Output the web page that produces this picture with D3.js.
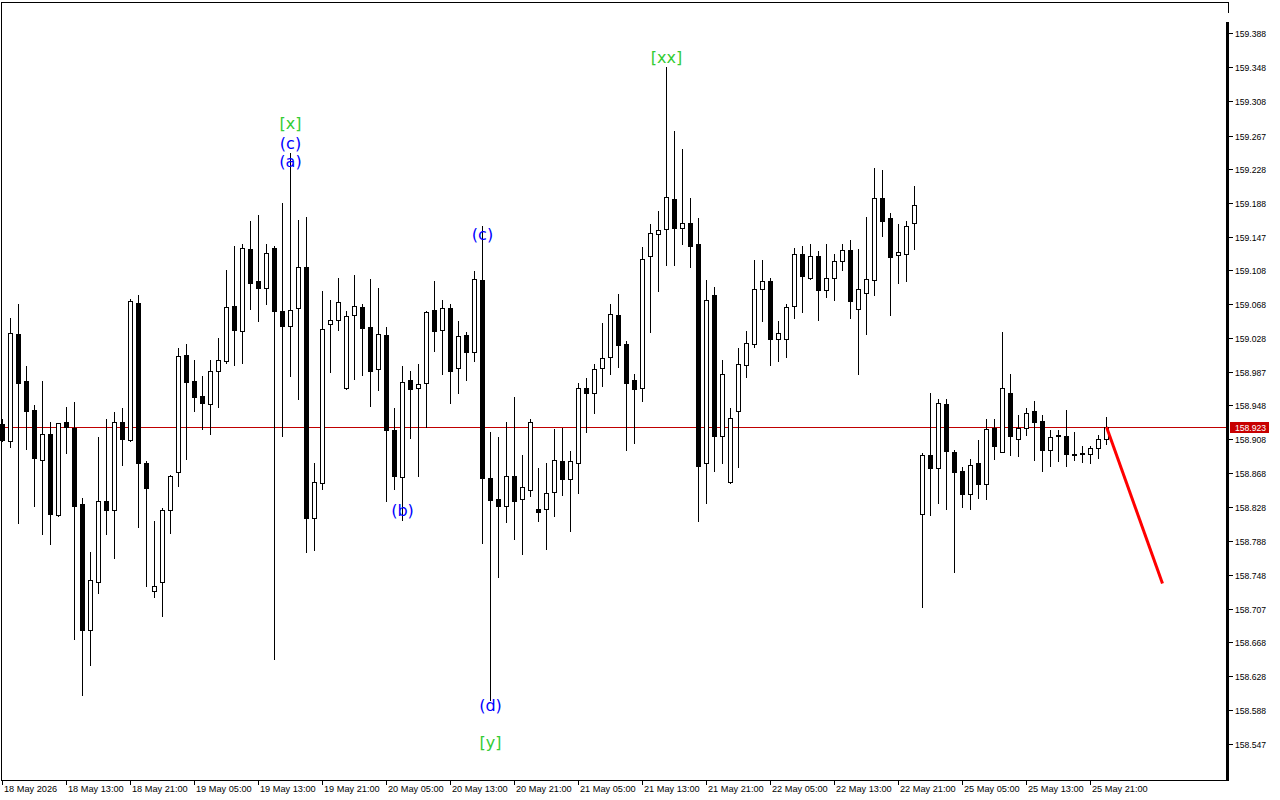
<!DOCTYPE html>
<html>
<head>
<meta charset="utf-8">
<script src="https://cdn.jsdelivr.net/npm/d3@7"></script>
<style>
  html, body { margin: 0; padding: 0; background: #fff; }
  svg { display: block; }
</style>
</head>
<body>
<svg id="chart" width="1280" height="800"></svg>
<script>
// ---- data (H1 bars, 18 May 05:00 .. 25 May 23:00) ----
const open = [158.927,158.907,159.033,158.978,158.943,158.884,158.915,158.819,158.929,158.922,158.832,158.683,158.740,158.835,158.825,158.929,158.908,159.070,158.881,158.729,158.740,158.825,158.870,159.008,158.978,158.960,158.950,158.989,159.001,159.066,159.037,159.134,159.096,159.088,159.135,159.060,159.043,159.064,159.112,158.816,158.857,159.045,159.050,158.969,159.056,159.065,159.041,158.992,159.032,158.920,158.864,158.979,158.969,158.975,159.062,159.038,159.064,158.993,159.032,159.012,159.097,158.863,158.838,158.830,158.865,158.838,158.849,158.826,158.826,158.846,158.883,158.861,158.880,158.969,158.963,158.993,159.006,159.056,159.021,158.979,158.969,159.125,159.151,159.157,159.193,159.159,159.164,159.139,158.881,159.079,158.913,158.858,158.942,158.997,159.021,159.086,159.096,159.027,159.027,159.066,159.128,159.099,159.125,159.085,159.099,159.120,159.133,159.063,159.082,159.097,159.194,159.170,159.127,159.128,159.164,158.820,158.890,158.874,158.950,158.894,158.871,158.844,158.880,158.856,158.922,158.894,158.963,158.909,158.922,158.942,158.930,158.896,158.913,158.913,158.891,158.892,158.891,158.898,158.909];
const high = [158.932,159.052,159.068,158.995,158.949,158.978,158.929,158.928,158.947,158.953,158.839,158.775,158.911,158.933,158.941,158.946,159.075,159.079,158.883,158.812,158.827,158.866,159.016,159.021,159.002,158.984,159.002,159.028,159.109,159.137,159.140,159.167,159.174,159.139,159.137,159.188,159.247,159.168,159.172,158.880,159.084,159.073,159.099,159.060,159.103,159.068,159.098,159.088,159.041,158.945,158.995,158.989,158.998,159.060,159.096,159.073,159.068,159.049,159.036,159.108,159.161,158.917,158.911,158.929,158.958,158.890,158.932,158.875,158.880,158.921,158.922,158.895,158.975,158.981,158.998,159.046,159.068,159.081,159.025,158.986,159.136,159.163,159.179,159.349,159.273,159.252,159.194,159.170,159.097,159.089,159.002,158.945,159.017,159.037,159.121,159.121,159.099,159.049,159.068,159.135,159.137,159.140,159.131,159.140,159.128,159.140,159.144,159.134,159.172,159.230,159.227,159.176,159.163,159.167,159.208,158.892,158.963,158.956,158.956,158.896,158.876,158.885,158.908,158.933,158.933,159.036,158.986,158.937,158.946,158.954,158.937,158.919,158.919,158.943,158.917,158.901,158.901,158.914,158.935];
const low = [158.906,158.900,158.809,158.897,158.830,158.797,158.785,158.818,158.892,158.672,158.606,158.641,158.727,158.796,158.768,158.878,158.907,158.805,158.735,158.722,158.700,158.798,158.853,158.885,158.942,158.921,158.915,158.947,158.999,158.997,158.999,159.063,159.049,159.069,158.649,158.913,158.984,158.956,158.775,158.777,158.850,158.988,159.038,158.968,158.980,158.985,158.948,158.967,158.836,158.850,158.813,158.910,158.865,158.923,159.013,158.986,158.952,158.963,158.979,159.001,158.786,158.600,158.746,158.811,158.790,158.773,158.842,158.812,158.779,158.818,158.843,158.800,158.845,158.917,158.940,158.972,158.986,158.994,158.896,158.904,158.954,159.036,159.084,159.115,159.115,159.139,159.112,158.812,158.833,158.871,158.881,158.857,158.876,158.982,159.018,159.049,158.997,159.001,159.006,159.052,159.059,159.098,159.050,159.077,159.073,159.109,159.052,158.986,159.033,159.079,159.149,159.056,159.094,159.096,159.134,158.710,158.819,158.833,158.826,158.752,158.829,158.826,158.839,158.838,158.885,158.893,158.890,158.889,158.914,158.884,158.871,158.877,158.883,158.877,158.884,158.882,158.880,158.887,158.903];
const close = [158.908,159.034,158.975,158.942,158.887,158.915,158.820,158.928,158.923,158.830,158.683,158.742,158.835,158.825,158.929,158.909,159.072,158.881,158.851,158.735,158.825,158.865,159.007,158.976,158.959,158.952,158.989,159.002,159.065,159.038,159.135,159.094,159.088,159.129,159.060,159.043,159.062,159.112,158.816,158.858,159.039,159.050,159.071,159.054,159.066,159.040,158.989,159.033,158.919,158.865,158.976,158.968,158.974,159.059,159.037,159.064,158.989,159.031,159.012,159.098,158.863,158.837,158.830,158.865,158.836,158.852,158.929,158.822,158.845,158.884,158.861,158.883,158.969,158.963,158.992,159.005,159.057,159.020,158.975,158.968,159.122,159.153,159.156,159.195,159.159,159.164,159.137,158.877,159.073,158.913,158.986,158.934,158.998,159.023,159.086,159.096,159.027,159.034,159.065,159.128,159.102,159.125,159.085,159.099,159.120,159.133,159.072,159.086,159.098,159.194,159.167,159.124,159.130,159.161,159.186,158.890,158.875,158.952,158.895,158.870,158.844,158.878,158.856,158.921,158.901,158.969,158.913,158.922,158.940,158.929,158.896,158.911,158.914,158.891,158.890,158.891,158.898,158.909,158.923];

const timeLabels = ["18 May 2026","18 May 13:00","18 May 21:00","19 May 05:00","19 May 13:00","19 May 21:00","20 May 05:00","20 May 13:00","20 May 21:00","21 May 05:00","21 May 13:00","21 May 21:00","22 May 05:00","22 May 13:00","22 May 21:00","25 May 05:00","25 May 13:00","25 May 21:00"];
const timeLabelBars = [0,8,16,24,32,40,48,56,64,72,80,88,96,104,112,120,128,136];

const priceTicks = ["159.388","159.348","159.308","159.267","159.228","159.188","159.147","159.108","159.068","159.028","158.987","158.948","158.908","158.868","158.828","158.788","158.748","158.707","158.668","158.628","158.588","158.547"];

const currentPrice = 158.923;
const forecastBars = [138, 145];
const forecastPrices = [158.923, 158.738];

const waveText  = ["[x]","(c)","(a)","(b)","(c)","(d)","[y]","[xx]"];
const waveBar   = [36, 36, 36, 50, 60, 61, 61, 83];
const wavePrice = [159.282, 159.259, 159.237, 158.824, 159.151, 158.594, 158.550, 159.360];
const waveColor = ["#33cc33","#0000ff","#0000ff","#0000ff","#0000ff","#0000ff","#33cc33","#33cc33"];

// ---- layout ----
const plotRight = 1228, plotBottom = 780, plotTop = 2, plotLeft = 1;
const svg = d3.select("#chart");

const y = d3.scaleLinear().domain([158.5055, 159.4282]).range([780, 0]);
const x = d3.scaleLinear().domain([0, 1]).range([2.5, 10.5]);
const crisp = v => Math.round(v - 0.5) + 0.5;

const bars = open.map((o, i) => ({i, o, h: high[i], l: low[i], c: close[i]}));

// clip for plot
svg.append("defs").append("clipPath").attr("id", "plotclip")
  .append("rect").attr("x", 0).attr("y", plotTop).attr("width", plotRight).attr("height", plotBottom - plotTop);

const plot = svg.append("g").attr("clip-path", "url(#plotclip)");

// current price line
plot.append("line")
  .attr("x1", 0).attr("x2", plotRight)
  .attr("y1", crisp(y(currentPrice))).attr("y2", crisp(y(currentPrice)))
  .attr("stroke", "#c00000").attr("stroke-width", 1);

// wicks
plot.append("g").selectAll("line").data(bars).join("line")
  .attr("x1", d => x(d.i)).attr("x2", d => x(d.i))
  .attr("y1", d => Math.round(y(d.h))).attr("y2", d => Math.round(y(d.l)) + 1)
  .attr("stroke", "#000").attr("stroke-width", 1)
  .attr("shape-rendering", "crispEdges");

// bodies
plot.append("g").selectAll("rect").data(bars).join("rect")
  .attr("x", d => x(d.i) - 2)
  .attr("width", 4)
  .attr("y", d => Math.round(y(Math.max(d.o, d.c))) + 0.5)
  .attr("height", d => Math.max(0.01, Math.round(y(Math.min(d.o, d.c))) - Math.round(y(Math.max(d.o, d.c)))))
  .attr("fill", d => d.c >= d.o ? "#fff" : "#000")
  .attr("stroke", "#000").attr("stroke-width", 1)
  .attr("shape-rendering", "crispEdges");

// forecast line
plot.append("line")
  .attr("x1", x(forecastBars[0])).attr("y1", y(forecastPrices[0]))
  .attr("x2", x(forecastBars[1])).attr("y2", y(forecastPrices[1]))
  .attr("stroke", "#ff0000").attr("stroke-width", 3);

// wave labels
plot.append("g").selectAll("text").data(waveText).join("text")
  .attr("x", (d, k) => x(waveBar[k]))
  .attr("y", (d, k) => y(wavePrice[k]))
  .attr("text-anchor", "middle")
  .attr("dominant-baseline", "central")
  .attr("font-family", "DejaVu Sans, sans-serif")
  .attr("font-size", 16)
  .attr("fill", (d, k) => waveColor[k])
  .text(d => d);

// frame
const frame = svg.append("g").attr("stroke", "#000").attr("fill", "none").attr("shape-rendering", "crispEdges");
frame.append("line").attr("x1", plotLeft).attr("x2", plotRight + 1).attr("y1", plotTop + 0.5).attr("y2", plotTop + 0.5);
frame.append("line").attr("x1", plotLeft + 0.5).attr("x2", plotLeft + 0.5).attr("y1", plotTop).attr("y2", plotBottom + 1);
frame.append("line").attr("x1", plotLeft).attr("x2", plotRight + 1).attr("y1", plotBottom + 0.5).attr("y2", plotBottom + 0.5);
frame.append("line").attr("x1", plotRight + 0.5).attr("x2", plotRight + 0.5).attr("y1", plotTop).attr("y2", 13);
frame.append("rect").attr("x", plotRight - 2).attr("y", 22).attr("width", 3).attr("height", plotBottom - 21).attr("fill", "#000").attr("stroke", "none");

// price axis
const yAxis = svg.append("g");
priceTicks.forEach(t => {
  const yy = crisp(y(+t));
  yAxis.append("line").attr("x1", plotRight + 1).attr("x2", plotRight + 5)
    .attr("y1", yy).attr("y2", yy).attr("stroke", "#000").attr("shape-rendering", "crispEdges");
  yAxis.append("text").attr("x", plotRight + 7).attr("y", yy)
    .attr("dominant-baseline", "central")
    .attr("font-family", "Liberation Sans, Arial, sans-serif").attr("font-size", 8.6)
    .attr("fill", "#000").text(t);
});

// current price tag
const cy = crisp(y(currentPrice));
yAxis.append("rect").attr("x", plotRight + 2).attr("y", cy - 5.5).attr("width", 39).attr("height", 11).attr("fill", "#c80000");
yAxis.append("text").attr("x", plotRight + 7).attr("y", cy)
  .attr("dominant-baseline", "central")
  .attr("font-family", "Liberation Sans, Arial, sans-serif").attr("font-size", 8.6)
  .attr("fill", "#fff").text(currentPrice.toFixed(3));

// time axis
const xAxis = svg.append("g");
timeLabels.forEach((t, k) => {
  const xx = x(timeLabelBars[k]);
  xAxis.append("line").attr("x1", xx).attr("x2", xx).attr("y1", plotBottom).attr("y2", plotBottom + 5)
    .attr("stroke", "#000").attr("shape-rendering", "crispEdges");
  xAxis.append("text").attr("x", xx + 1.5).attr("y", 792)
    .attr("font-family", "Liberation Sans, Arial, sans-serif").attr("font-size", 9.2)
    .attr("fill", "#000").text(t);
});
</script>
</body>
</html>
